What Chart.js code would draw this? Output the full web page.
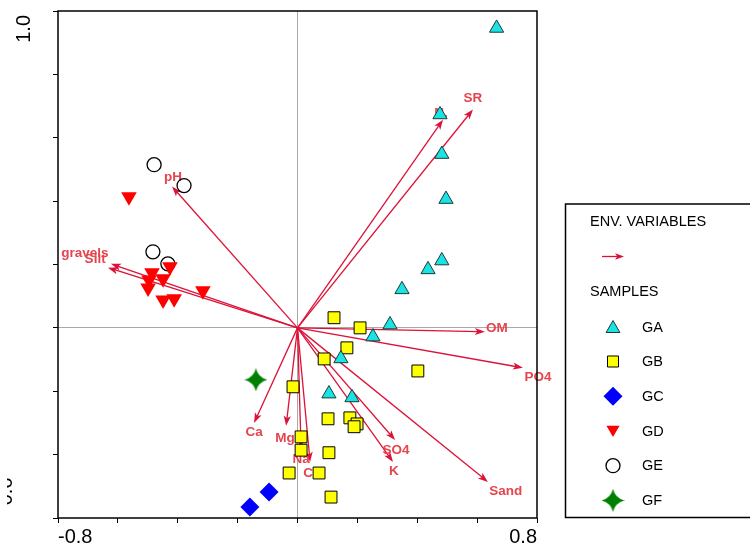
<!DOCTYPE html>
<html><head><meta charset="utf-8">
<script src="https://cdn.jsdelivr.net/npm/chart.js@4.4.1/dist/chart.umd.min.js"></script>
<style>html,body{margin:0;padding:0;background:#fff;}#wrap{width:750px;height:545px;position:relative;}</style>
</head><body><div id="wrap"><canvas id="c" width="750" height="545"></canvas></div>
<script>
// ---- data ----
const groupNames = ['GA','GB','GC','GD','GE','GF'];
const gaX = [0.665,0.476,0.482,0.496,0.482,0.436,0.349,0.309,0.252,0.145,0.105,0.182];
const gaY = [0.946,0.673,0.548,0.406,0.212,0.184,0.121,0.010,-0.028,-0.097,-0.208,-0.220];
const gbX = [0.122,0.209,0.165,0.089,0.402,-0.015,0.102,0.175,0.199,0.189,0.012,0.012,0.105,-0.028,0.072,0.112];
const gbY = [0.032,0.000,-0.063,-0.098,-0.136,-0.186,-0.287,-0.284,-0.303,-0.312,-0.344,-0.386,-0.394,-0.458,-0.458,-0.534];
const gcX = [-0.095,-0.159];
const gcY = [-0.518,-0.565];
const gdX = [-0.563,-0.426,-0.486,-0.449,-0.496,-0.499,-0.449,-0.412,-0.316];
const gdY = [0.414,0.193,0.174,0.155,0.151,0.126,0.088,0.092,0.117];
const geX = [-0.479,-0.379,-0.483,-0.433];
const geY = [0.515,0.449,0.240,0.202];
const gfX = [-0.139];
const gfY = [-0.164];

const envNames = ['pH','gravels','Silt','OM','PO4','Sand','SO4','K','Ca','Mg','Na','Cl','N.','SR'];
const envX = [-0.419,-0.623,-0.633,0.626,0.753,0.636,0.326,0.319,-0.145,-0.038,0.012,0.042,0.486,0.586];
const envY = [0.446,0.202,0.190,-0.012,-0.126,-0.486,-0.354,-0.423,-0.300,-0.309,-0.381,-0.423,0.657,0.689];
const envLabelX = [-0.416,-0.710,-0.676,0.666,0.803,0.696,0.329,0.322,-0.145,-0.042,0.012,0.042,0.479,0.586];
const envLabelY = [0.475,0.234,0.217,0.000,-0.157,-0.517,-0.385,-0.451,-0.331,-0.347,-0.414,-0.459,0.676,0.724];

const xTickLabels = ['-0.8','0.8'];
const yTickLabels = ['1.0','-0.6'];
const legendTitleEnv = 'ENV. VARIABLES';
const legendTitleSamples = 'SAMPLES';

// ---- styles ----
const FONT = '"Liberation Sans", Arial, sans-serif';
const ARROW_COLOR = '#dc1238';
const LABEL_COLOR = '#e6444e';

function pts(xs, ys){ return xs.map((x,i)=>({x:x, y:ys[i]})); }

// four-pointed star image
function makeStar(size){
  const c = document.createElement('canvas');
  c.width = size; c.height = size;
  const g = c.getContext('2d');
  const m = size/2, k = size*0.10;
  g.fillStyle = '#008000';
  g.beginPath();
  g.moveTo(m, 0);
  g.quadraticCurveTo(m+k, m-k, size, m);
  g.quadraticCurveTo(m+k, m+k, m, size);
  g.quadraticCurveTo(m-k, m+k, 0, m);
  g.quadraticCurveTo(m-k, m-k, m, 0);
  g.closePath();
  g.fill();
  return c;
}
const starImg = makeStar(23);

const datasets = [
  {label:'GA', data:pts(gaX,gaY), pointStyle:'triangle', pointRadius:8.2, backgroundColor:'#19e3e3', borderColor:'#1d3a3a', borderWidth:1, order:1},
  {label:'GB', data:pts(gbX,gbY), pointStyle:'rect', pointRadius:8.4, backgroundColor:'#ffff00', borderColor:'#000', borderWidth:1, order:2},
  {label:'GC', data:pts(gcX,gcY), pointStyle:'rectRot', pointRadius:9.5, backgroundColor:'#0000ff', borderColor:'#0000ff', borderWidth:0, order:3},
  {label:'GD', data:pts(gdX,gdY), pointStyle:'triangle', rotation:180, pointRadius:9, backgroundColor:'#ff0000', borderColor:'#ff0000', borderWidth:0, order:4},
  {label:'GE', data:pts(geX,geY), pointStyle:'circle', pointRadius:7, backgroundColor:'rgba(0,0,0,0)', borderColor:'#000', borderWidth:1.3, order:5},
  {label:'GF', data:pts(gfX,gfY), pointStyle:starImg, pointRadius:11, backgroundColor:'#008000', borderColor:'#008000', borderWidth:0, order:6}
];

function arrow(ctx, x0, y0, x1, y1, len, half, color, lw){
  const dx = x1-x0, dy = y1-y0, d = Math.hypot(dx,dy);
  const ux = dx/d, uy = dy/d;
  ctx.save();
  ctx.strokeStyle = color; ctx.fillStyle = color; ctx.lineWidth = lw;
  ctx.beginPath(); ctx.moveTo(x0,y0); ctx.lineTo(x1-ux*len*0.6, y1-uy*len*0.6); ctx.stroke();
  ctx.beginPath();
  ctx.moveTo(x1,y1);
  ctx.lineTo(x1-ux*len - uy*half, y1-uy*len + ux*half);
  ctx.lineTo(x1-ux*len*0.75, y1-uy*len*0.75);
  ctx.lineTo(x1-ux*len + uy*half, y1-uy*len - ux*half);
  ctx.closePath(); ctx.fill();
  ctx.restore();
}

const biplotPlugin = {
  id:'biplot',
  beforeDatasetsDraw(chart){
    const ctx = chart.ctx, xs = chart.scales.x, ys = chart.scales.y;
    const ox = xs.getPixelForValue(0), oy = ys.getPixelForValue(0);
    envNames.forEach((n,i)=>{
      arrow(ctx, ox, oy, xs.getPixelForValue(envX[i]), ys.getPixelForValue(envY[i]), 10, 3.6, ARROW_COLOR, 1.3);
    });
    ctx.save();
    ctx.fillStyle = LABEL_COLOR;
    ctx.font = 'bold 13.5px ' + FONT;
    ctx.textAlign = 'center'; ctx.textBaseline = 'middle';
    envNames.forEach((n,i)=>{
      ctx.fillText(n, xs.getPixelForValue(envLabelX[i]), ys.getPixelForValue(envLabelY[i]));
    });
    ctx.restore();
  },
  afterDraw(chart){
    const ctx = chart.ctx, a = chart.chartArea;
    ctx.save();
    // frame
    ctx.strokeStyle = '#000'; ctx.lineWidth = 1.5;
    ctx.strokeRect(a.left, a.top, a.right-a.left, a.bottom-a.top);
    // rotated y tick labels
    ctx.fillStyle = '#000';
    ctx.font = '20px ' + FONT;
    ctx.textBaseline = 'alphabetic';
    ctx.save();
    ctx.translate(30, a.top + 4); ctx.rotate(-Math.PI/2);
    ctx.textAlign = 'right'; ctx.fillText(yTickLabels[0], 0, 0);
    ctx.restore();
    ctx.save();
    ctx.beginPath(); ctx.rect(7, 0, 60, 545); ctx.clip();
    ctx.translate(12, a.bottom - 6); ctx.rotate(-Math.PI/2);
    ctx.textAlign = 'left'; ctx.fillText(yTickLabels[1], 0, 0);
    ctx.restore();
    // legend box
    ctx.lineWidth = 1.5; ctx.strokeStyle = '#000';
    ctx.strokeRect(565.5, 204, 200, 313.5);
    ctx.font = '14.5px ' + FONT; ctx.textAlign = 'left'; ctx.textBaseline = 'middle'; ctx.fillStyle = '#000';
    ctx.fillText(legendTitleEnv, 590, 222);
    arrow(ctx, 602, 256.5, 624, 256.5, 9, 3.2, ARROW_COLOR, 1.3);
    ctx.fillText(legendTitleSamples, 590, 292);
    const legR = [8, 7.8, 9.5, 7.6, 7, 11];
    const rowY = [327, 361.5, 396.3, 431, 465.7, 500.5];
    datasets.forEach((ds,i)=>{
      const y = rowY[i];
      ctx.save();
      ctx.fillStyle = ds.backgroundColor; ctx.strokeStyle = ds.borderColor; ctx.lineWidth = ds.borderWidth;
      const opts = {pointStyle: ds.pointStyle, radius: legR[i], rotation: ds.rotation || 0, borderWidth: ds.borderWidth};
      Chart.helpers.drawPoint(ctx, opts, 613, i===0 ? y+1.5 : (i===3 ? y-1.5 : y));
      ctx.restore();
      ctx.fillStyle = '#000';
      ctx.fillText(groupNames[i], 642, y+0.5);
    });
    ctx.restore();
  }
};

new Chart(document.getElementById('c'), {
  type:'scatter',
  data:{datasets:datasets},
  options:{
    responsive:false, animation:false, devicePixelRatio:1,
    layout:{padding:{top:11, right:213, left:0, bottom:0}},
    plugins:{legend:{display:false}, tooltip:{enabled:false}},
    scales:{
      x:{type:'linear', min:-0.8, max:0.8,
        afterFit(s){ s.height = 27; },
        ticks:{stepSize:0.2, autoSkip:false, maxRotation:0, align:'inner', padding:2, color:'#000',
          font:{size:20, family:FONT},
          callback(v){ if (Math.abs(v+0.8)<1e-6) return xTickLabels[0]; if (Math.abs(v-0.8)<1e-6) return xTickLabels[1]; return ''; }},
        grid:{drawOnChartArea:true, tickLength:5, tickColor:'#000', lineWidth:1,
          color(c){ return (c.tick && Math.abs(c.tick.value)<1e-9) ? '#a9a9a9' : 'rgba(0,0,0,0)'; }},
        border:{display:false}
      },
      y:{type:'linear', min:-0.6, max:1.0,
        afterFit(s){ s.width = 58; },
        ticks:{stepSize:0.2, autoSkip:false, callback(){ return ''; }},
        grid:{drawOnChartArea:true, tickLength:5, tickColor:'#000', lineWidth:1,
          color(c){ return (c.tick && Math.abs(c.tick.value)<1e-9) ? '#a9a9a9' : 'rgba(0,0,0,0)'; }},
        border:{display:false}
      }
    }
  },
  plugins:[biplotPlugin]
});
</script></body></html>
